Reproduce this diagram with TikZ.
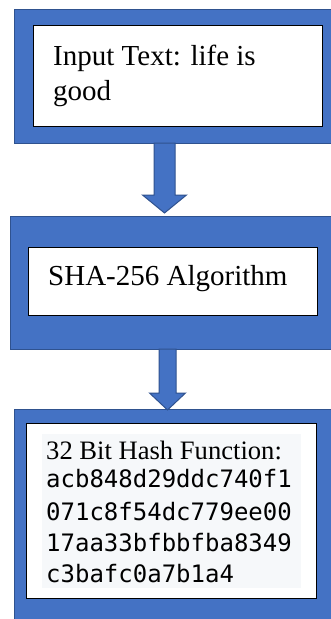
\documentclass[tikz,border=0pt]{standalone}
\usepackage{fontspec}
\setmainfont{Liberation Serif}
\newfontfamily\hexfont{DejaVu Sans Mono}
\usetikzlibrary{calc}
\definecolor{oblue}{HTML}{4472C4}
\definecolor{oborder}{HTML}{2F528F}
\definecolor{codebg}{HTML}{F6F8FA}
\tikzset{
  x=1pt,y=1pt,
  outerbox/.style={fill=oblue,draw=oborder,line width=1pt},
  innerbox/.style={fill=white,draw=black,line width=1pt},
  blockarrow/.style={fill=oblue,draw=oborder,line width=1pt,line join=miter},
  serifline/.style={inner sep=0pt,anchor=base west,font=\fontsize{29}{35}\selectfont},
  hexline/.style={inner sep=0pt,anchor=base west,font=\hexfont\fontsize{24}{31.7}\selectfont},
}
\begin{document}
\begin{tikzpicture}
\useasboundingbox (0,0) rectangle (331,-619);
\clip (0,0) rectangle (331,-619);
\fill[white] (0,0) rectangle (331,-619);
% outer boxes
\path[outerbox] (14,-9) rectangle (345,-143) coordinate (b1se);
\coordinate (b1) at (164.5,-143);
\path[outerbox] (10,-216) rectangle (345,-349);
\coordinate (b2top) at (164.5,-216);
\coordinate (b2) at (167.5,-349);
\path[outerbox] (14,-409) rectangle (345,-640);
\coordinate (b3top) at (167.5,-410);
% inner boxes
\node[innerbox,minimum width=289pt,minimum height=101pt,anchor=north west,inner sep=0pt] (i1) at (33,-25) {};
\node[innerbox,minimum width=289pt,minimum height=68pt,anchor=north west,inner sep=0pt] (i2) at (28,-247) {};
\node[innerbox,minimum width=290pt,minimum height=175pt,anchor=north west,inner sep=0pt] (i3) at (26,-423) {};
\node[fill=codebg,minimum width=259pt,minimum height=154pt,anchor=north west,inner sep=0pt] (g3) at (42,-434) {};
% texts
\node[serifline] (t1a) at (53,-65) {Input Text: life is};
\node[serifline] (t1b) at (53,-100) {good};
\node[serifline] (t2) at (48,-285) {SHA-256 Algorithm};
\node[inner sep=0pt,anchor=base west,font=\fontsize{26.6}{30}\selectfont] (t3) at (46,-459) {32 Bit Hash Function:};
\node[hexline] (h1) at (46,-487) {acb848d29ddc740f1};
\node[hexline] (h2) at (46,-520) {071c8f54dc779ee00};
\node[hexline] (h3) at (46,-551) {17aa33bfbbfba8349};
\node[hexline] (h4) at (46,-582) {c3bafc0a7b1a4};
% arrows
\draw[blockarrow] ([xshift=-10.5pt]b1) -- ([xshift=-10.5pt,yshift=21pt]b2top) -- ([xshift=-22pt,yshift=21pt]b2top) -- ([yshift=3pt]b2top) -- ([xshift=22pt,yshift=21pt]b2top) -- ([xshift=10.5pt,yshift=21pt]b2top) -- ([xshift=10.5pt]b1) -- cycle;
\draw[blockarrow] ([xshift=-8.5pt]b2) -- ([xshift=-8.5pt,yshift=17pt]b3top) -- ([xshift=-18pt,yshift=17pt]b3top) -- (b3top) -- ([xshift=18pt,yshift=17pt]b3top) -- ([xshift=8.5pt,yshift=17pt]b3top) -- ([xshift=8.5pt]b2) -- cycle;
\end{tikzpicture}
\end{document}
